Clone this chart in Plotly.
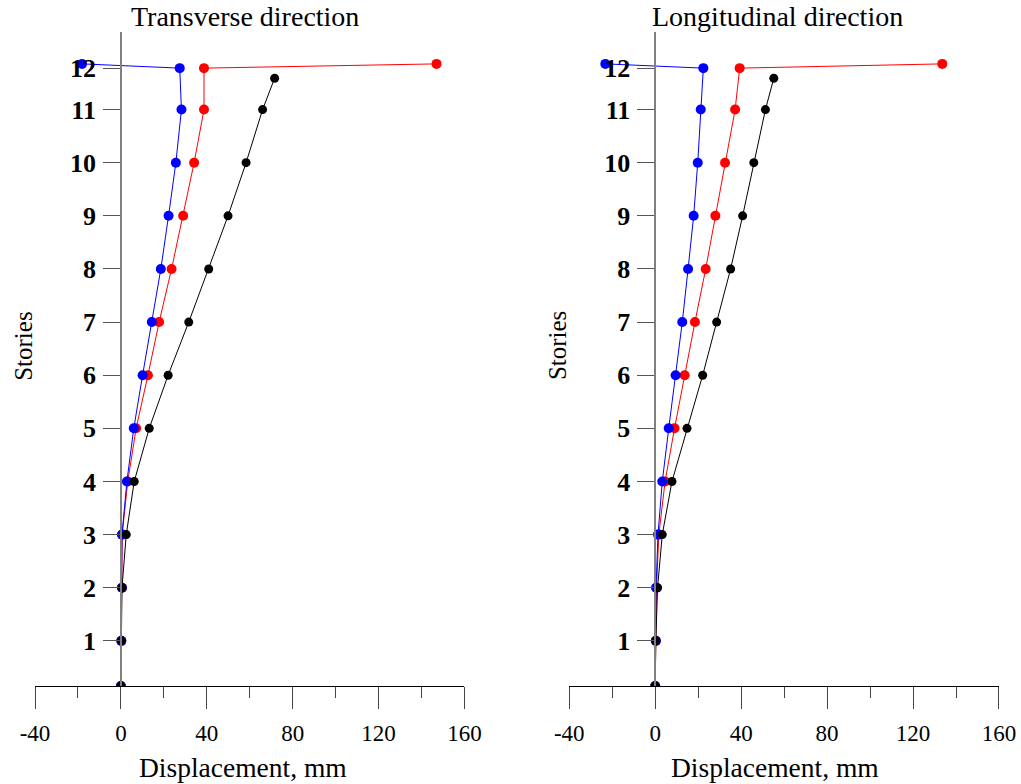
import plotly.graph_objects as go

# ---- data ----
story_labels = ["1", "2", "3", "4", "5", "6", "7", "8", "9", "10", "11", "12"]
story_ticks = [1, 2, 3, 4, 5, 6, 7, 8, 9, 10, 11, 11.78]
levels_br = [0.15, 1, 2, 3, 4, 5, 6, 7, 8, 9, 10, 11, 11.78, 11.86]
levels_k = [0.15, 1, 2, 3, 4, 5, 6, 7, 8, 9, 10, 11, 11.59]

blue_T = [0, 0.2, 0.5, 0.5, 2.8, 6.0, 10.1, 14.4, 18.6, 22.2, 25.6, 28.2, 27.4, -18.1]
red_T = [0, 0.2, 0.5, 0.6, 3.2, 7.1, 12.6, 17.8, 23.6, 29.0, 34.1, 38.7, 38.7, 147.0]
black_T = [0, 0.2, 0.5, 2.5, 6.2, 13.2, 22.0, 31.6, 40.9, 49.9, 58.3, 66.0, 71.6]

blue_L = [0, 0.3, 0.4, 1.3, 3.3, 6.3, 9.5, 12.6, 15.3, 17.9, 19.8, 21.2, 22.4, -23.2]
red_L = [0, 0.3, 0.6, 1.7, 4.6, 9.0, 13.7, 18.5, 23.5, 28.0, 32.5, 37.2, 39.3, 133.6]
black_L = [0, 0.3, 1.1, 3.3, 7.8, 14.8, 22.1, 28.6, 35.1, 40.7, 45.9, 51.3, 55.2]

x_ticks = [-40, 0, 40, 80, 120, 160]
x_labels = ["-40", "0", "40", "80", "120", "160"]
titles = ["Transverse direction", "Longitudinal direction"]
x_title = "Displacement, mm"
y_title = "Stories"

FONT = "Liberation Serif, Times New Roman, serif"

fig = go.Figure()

panels = [
    ("x", "y", blue_T, red_T, black_T),
    ("x2", "y2", blue_L, red_L, black_L),
]
for xa, ya, b, r, k in panels:
    fig.add_trace(go.Scatter(x=r, y=levels_br, xaxis=xa, yaxis=ya, mode="lines+markers",
                             line=dict(color="#ff0000", width=1),
                             marker=dict(color="#ff0000", size=10), showlegend=False))
    fig.add_trace(go.Scatter(x=b, y=levels_br, xaxis=xa, yaxis=ya, mode="lines+markers",
                             line=dict(color="#0000ff", width=1),
                             marker=dict(color="#0000ff", size=10), showlegend=False))
    fig.add_trace(go.Scatter(x=k, y=levels_k, xaxis=xa, yaxis=ya, mode="lines+markers",
                             line=dict(color="#000000", width=1),
                             marker=dict(color="#000000", size=9), showlegend=False))

dom1 = [0.0, 0.4455]
dom2 = [0.5542, 1.0]
xr = [-40, 160]
yr = [0.15, 12.46]


def xaxis_cfg(dom, anchor):
    return dict(domain=dom, range=xr, anchor=anchor, showgrid=False, zeroline=False,
                showline=True, linecolor="black", linewidth=1,
                tickmode="array", tickvals=x_ticks, ticktext=x_labels,
                ticks="outside", ticklen=22,
                tickcolor="#444", tickwidth=1,
                minor=dict(dtick=20, tick0=-40, ticks="outside", ticklen=11,
                           tickcolor="#444", tickwidth=1, showgrid=False),
                tickfont=dict(family=FONT, size=23, color="black"),
                ticklabelstandoff=4)


def yaxis_cfg(pos):
    return dict(domain=[0, 1], range=yr, anchor="free", position=pos, showgrid=False,
                zeroline=False, showline=True, linecolor="#808080", linewidth=1.5,
                tickmode="array", tickvals=story_ticks, ticktext=story_labels,
                ticks="outside", ticklen=17, tickcolor="#555", tickwidth=1,
                tickfont=dict(family=FONT, size=26, color="black", weight="bold"),
                ticklabelstandoff=2)


pos1 = dom1[0] + 0.2 * (dom1[1] - dom1[0])
pos2 = dom2[0] + 0.2 * (dom2[1] - dom2[0])

fig.update_layout(
    width=1021, height=784,
    paper_bgcolor="white", plot_bgcolor="white",
    margin=dict(l=35, r=22, t=32, b=98, autoexpand=False),
    xaxis=xaxis_cfg(dom1, "y"),
    xaxis2=xaxis_cfg(dom2, "y2"),
    yaxis=yaxis_cfg(pos1),
    yaxis2=yaxis_cfg(pos2),
    showlegend=False,
)

# panel titles, axis titles
title_x = [0.2183, 0.7706]
xtitle_x = [0.2155, 0.768]
for i, pos in enumerate([pos1, pos2]):
    fig.add_annotation(text=titles[i], xref="paper", yref="paper", x=title_x[i], y=1.0,
                       yshift=16, xanchor="center", yanchor="middle", showarrow=False,
                       font=dict(family=FONT, size=28, color="black"))
    fig.add_annotation(text=x_title, xref="paper", yref="paper", x=xtitle_x[i], y=-0.124,
                       xanchor="center", yanchor="middle", showarrow=False,
                       font=dict(family=FONT, size=27.5, color="black"))
    fig.add_annotation(text=y_title, xref="paper", yref="paper", x=pos, y=0.52,
                       xshift=-97, textangle=-90, xanchor="center", yanchor="middle",
                       showarrow=False, font=dict(family=FONT, size=25, color="black"))

fig.write_html("out.html", config={"displayModeBar": False},
               post_script="document.body.style.margin='0';")
